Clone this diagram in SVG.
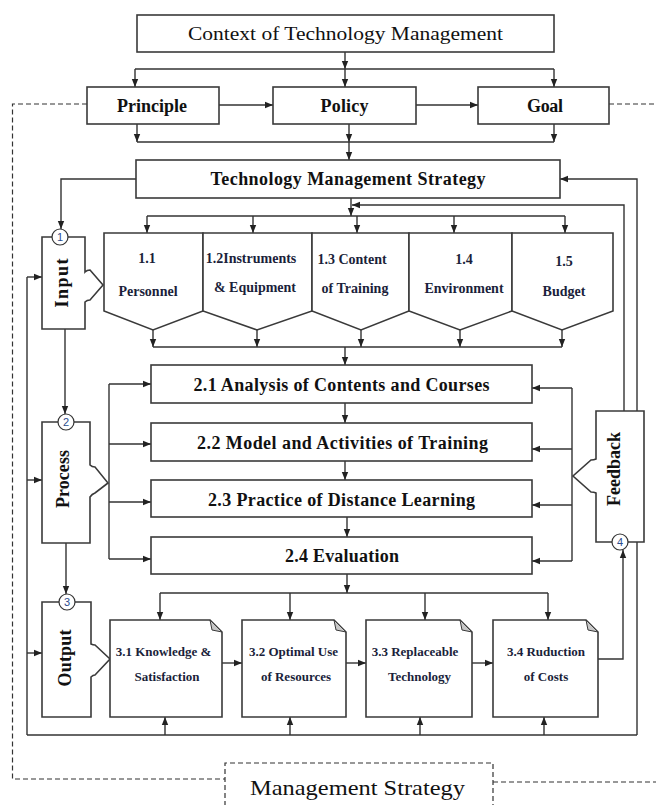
<svg xmlns="http://www.w3.org/2000/svg" width="656" height="805" viewBox="0 0 656 805">
<defs>
<marker id="ah" viewBox="0 0 8 8" refX="8" refY="4" markerWidth="8" markerHeight="8" markerUnits="userSpaceOnUse" orient="auto"><path d="M0,0.8 L8,4 L0,7.2 Z" fill="#222"/></marker>
<style>
.c{fill:none;stroke:#333;stroke-width:1.4}
.a{marker-end:url(#ah)}
.box{fill:#fff;stroke:#3a3a3a;stroke-width:1.6}
.d{fill:none;stroke:#333;stroke-width:1.2;stroke-dasharray:5 3}
.t{font-family:"Liberation Serif","Times New Roman",serif;fill:#111;text-anchor:middle}
.b{font-weight:bold}
.h{font-size:18px}
.n{font-family:"Liberation Sans",Arial,sans-serif;font-size:11px;fill:#2b4c8c;text-anchor:middle}
.it{font-size:14px;fill:#1b1f3b}
.dt{font-size:13px;fill:#1b1f3b}
.fold{fill:#c8c8c8;stroke:#3a3a3a;stroke-width:1}
.circ{fill:#fff;stroke:#333;stroke-width:1.2}
</style>
</defs>
<rect width="656" height="805" fill="#fff"/>

<g id="connectors">
<path class="c a" d="M345,52 V69"/>
<path class="c" d="M135,69 H554"/>
<path class="c a" d="M135,69 V87"/>
<path class="c a" d="M345,69 V87"/>
<path class="c a" d="M554,69 V87"/>
<path class="c a" d="M219,105 H273"/>
<path class="c a" d="M416,105 H478"/>
<path class="c a" d="M137,124 V142"/>
<path class="c a" d="M349,124 V142"/>
<path class="c a" d="M554,124 V142"/>
<path class="c" d="M137,142 H554"/>
<path class="c a" d="M349,142 V160"/>
<path class="c a" d="M136,179 H61 V229"/>
<path class="c a" d="M637,735 V179 H560"/>
<path class="c a" d="M351,198 V216"/>
<path class="c a" d="M624,411 V205 H352"/>
<path class="c" d="M147,216 H565"/>
<path class="c a" d="M147,216 V233"/>
<path class="c a" d="M253,216 V233"/>
<path class="c a" d="M357,216 V233"/>
<path class="c a" d="M454,216 V233"/>
<path class="c a" d="M565,216 V233"/>
<path class="c a" d="M153,330 V347"/>
<path class="c a" d="M257,330 V347"/>
<path class="c a" d="M361,330 V347"/>
<path class="c a" d="M460,330 V347"/>
<path class="c a" d="M562,330 V347"/>
<path class="c" d="M153,347 H562"/>
<path class="c a" d="M345,347 V365"/>
<path class="c a" d="M65,329 V414"/>
<path class="c" d="M109,384 V559"/>
<path class="c a" d="M109,384 H151"/>
<path class="c a" d="M109,444 H151"/>
<path class="c a" d="M109,502 H151"/>
<path class="c a" d="M109,559 H151"/>
<path class="c a" d="M345,403 V423"/>
<path class="c a" d="M345,461 V480"/>
<path class="c a" d="M347,517 V537"/>
<path class="c a" d="M347,574 V593"/>
<path class="c" d="M572,388 V561"/>
<path class="c a" d="M572,388 H532"/>
<path class="c a" d="M572,449 H532"/>
<path class="c a" d="M572,505 H532"/>
<path class="c a" d="M572,561 H532"/>
<path class="c a" d="M66,543 V594"/>
<path class="c" d="M160,593 H548"/>
<path class="c a" d="M160,593 V620"/>
<path class="c a" d="M290,593 V620"/>
<path class="c a" d="M425,593 V620"/>
<path class="c a" d="M548,593 V620"/>
<path class="c a" d="M222,663 H242"/>
<path class="c a" d="M346,663 H366"/>
<path class="c a" d="M472,663 H493"/>
<path class="c a" d="M598,659 H623 V550"/>
<path class="c" d="M27,735 H637"/>
<path class="c" d="M27,735 V277"/>
<path class="c a" d="M27,277 H42"/>
<path class="c a" d="M27,480 H42"/>
<path class="c a" d="M27,653 H42"/>
<path class="c a" d="M165,735 V717"/>
<path class="c a" d="M290,735 V717"/>
<path class="c a" d="M420,735 V717"/>
<path class="c a" d="M544,735 V717"/>
</g>

<g id="frame">
<path class="d" d="M87,104 H12.5 V779 H225"/>
<path class="d" d="M609,104 H656"/>
<path class="d" d="M225,806 V763 H493 V806"/>
<path class="d" d="M493,782 H656"/>
<text class="t" x="357.5" y="795" font-size="22" textLength="215" lengthAdjust="spacingAndGlyphs">Management Strategy</text>
</g>

<g id="context">
<rect class="box" x="137" y="15" width="417" height="37"/>
<text class="t" x="345.5" y="40" font-size="19" textLength="315" lengthAdjust="spacingAndGlyphs">Context of Technology Management</text>
</g>
<g id="principle">
<rect class="box" x="87" y="87" width="132" height="37"/>
<text class="t b h" x="152" y="111.5" textLength="70">Principle</text>
</g>
<g id="policy">
<rect class="box" x="273" y="87" width="143" height="37"/>
<text class="t b h" x="344.5" y="111.5" textLength="48">Policy</text>
</g>
<g id="goal">
<rect class="box" x="478" y="87" width="131" height="37"/>
<text class="t b h" x="545" y="111.5" textLength="36">Goal</text>
</g>
<g id="tms">
<rect class="box" x="136" y="160" width="424" height="38"/>
<text class="t b h" x="348" y="185" textLength="275">Technology Management Strategy</text>
</g>

<g id="input">
<path class="box" d="M42,237 H85 V272 Q87,270 90,270 L103,285 L90,300 Q87,300 85,302 V329 H42 Z"/>
<circle class="circ" cx="60" cy="237" r="8"/>
<text class="n" x="60" y="241">1</text>
<text class="t b h" transform="translate(62,283) rotate(-90)" x="0" y="6" textLength="49">Input</text>
</g>

<g id="items">
<path class="box" d="M104,233 H203 V311 L153,330 L104,311 Z"/>
<path class="box" d="M203,233 H312 V311 L257,330 L203,311 Z"/>
<path class="box" d="M312,233 H409 V311 L361,330 L312,311 Z"/>
<path class="box" d="M409,233 H512 V311 L460,330 L409,311 Z"/>
<path class="box" d="M512,233 H613 V311 L562,330 L512,311 Z"/>
<text class="t b it" x="147" y="263">1.1</text>
<text class="t b it" x="148" y="296">Personnel</text>
<text class="t b it" x="251" y="263">1.2Instruments</text>
<text class="t b it" x="255" y="292">&amp; Equipment</text>
<text class="t b it" x="352" y="264">1.3 Content</text>
<text class="t b it" x="355" y="293">of Training</text>
<text class="t b it" x="464" y="264">1.4</text>
<text class="t b it" x="464" y="293">Environment</text>
<text class="t b it" x="564" y="266">1.5</text>
<text class="t b it" x="564" y="296">Budget</text>
</g>

<g id="process">
<path class="box" d="M42,422 H90 V465 Q92,467 95,467 L108,483 L95,493 Q92,494 90,497 V543 H42 Z"/>
<circle class="circ" cx="66" cy="422" r="8"/>
<text class="n" x="66" y="426">2</text>
<text class="t b h" transform="translate(63,479) rotate(-90)" x="0" y="6" textLength="58">Process</text>
</g>

<g id="s21">
<rect class="box" x="151" y="365" width="381" height="38"/>
<text class="t b h" x="341.5" y="391" textLength="296">2.1 Analysis of Contents and Courses</text>
</g>
<g id="s22">
<rect class="box" x="151" y="423" width="381" height="38"/>
<text class="t b h" x="342.5" y="449" textLength="291">2.2 Model and Activities of Training</text>
</g>
<g id="s23">
<rect class="box" x="151" y="480" width="381" height="37"/>
<text class="t b h" x="341.5" y="505.5" textLength="267">2.3 Practice of Distance Learning</text>
</g>
<g id="s24">
<rect class="box" x="151" y="537" width="381" height="37"/>
<text class="t b h" x="342" y="562" textLength="114">2.4 Evaluation</text>
</g>

<g id="feedback">
<path class="box" d="M596,411 H644 V542 H596 V493 Q594,492 591,492 L573,476 L591,460 Q594,460 596,459 Z"/>
<circle class="circ" cx="620" cy="542" r="8"/>
<text class="n" x="620" y="546">4</text>
<text class="t b h" transform="translate(614,469) rotate(-90)" x="0" y="6" textLength="74">Feedback</text>
</g>

<g id="output">
<path class="box" d="M42,602 H91 V644 Q93,645 95,645 L110,659 L95,675 Q93,675 91,677 V717 H42 Z"/>
<circle class="circ" cx="67" cy="602" r="8"/>
<text class="n" x="67" y="606">3</text>
<text class="t b h" transform="translate(65,658) rotate(-90)" x="0" y="6" textLength="57">Output</text>
</g>

<g id="o31">
<path class="box" d="M110,620 H210 L222,632 V717 H110 Z"/>
<path class="fold" d="M210,620 L212,630 L222,632 Z"/>
<text class="t b dt" x="163.5" y="656">3.1 Knowledge &amp;</text>
<text class="t b dt" x="167" y="681">Satisfaction</text>
</g>
<g id="o32">
<path class="box" d="M242,620 H334 L346,632 V717 H242 Z"/>
<path class="fold" d="M334,620 L336,630 L346,632 Z"/>
<text class="t b dt" x="293.5" y="656">3.2 Optimal Use</text>
<text class="t b dt" x="296" y="681">of Resources</text>
</g>
<g id="o33">
<path class="box" d="M366,620 H460 L472,632 V717 H366 Z"/>
<path class="fold" d="M460,620 L462,630 L472,632 Z"/>
<text class="t b dt" x="415" y="656">3.3 Replaceable</text>
<text class="t b dt" x="419.5" y="681">Technology</text>
</g>
<g id="o34">
<path class="box" d="M493,620 H586 L598,632 V717 H493 Z"/>
<path class="fold" d="M586,620 L588,630 L598,632 Z"/>
<text class="t b dt" x="546" y="656">3.4 Ruduction</text>
<text class="t b dt" x="546" y="681">of Costs</text>
</g>
</svg>
